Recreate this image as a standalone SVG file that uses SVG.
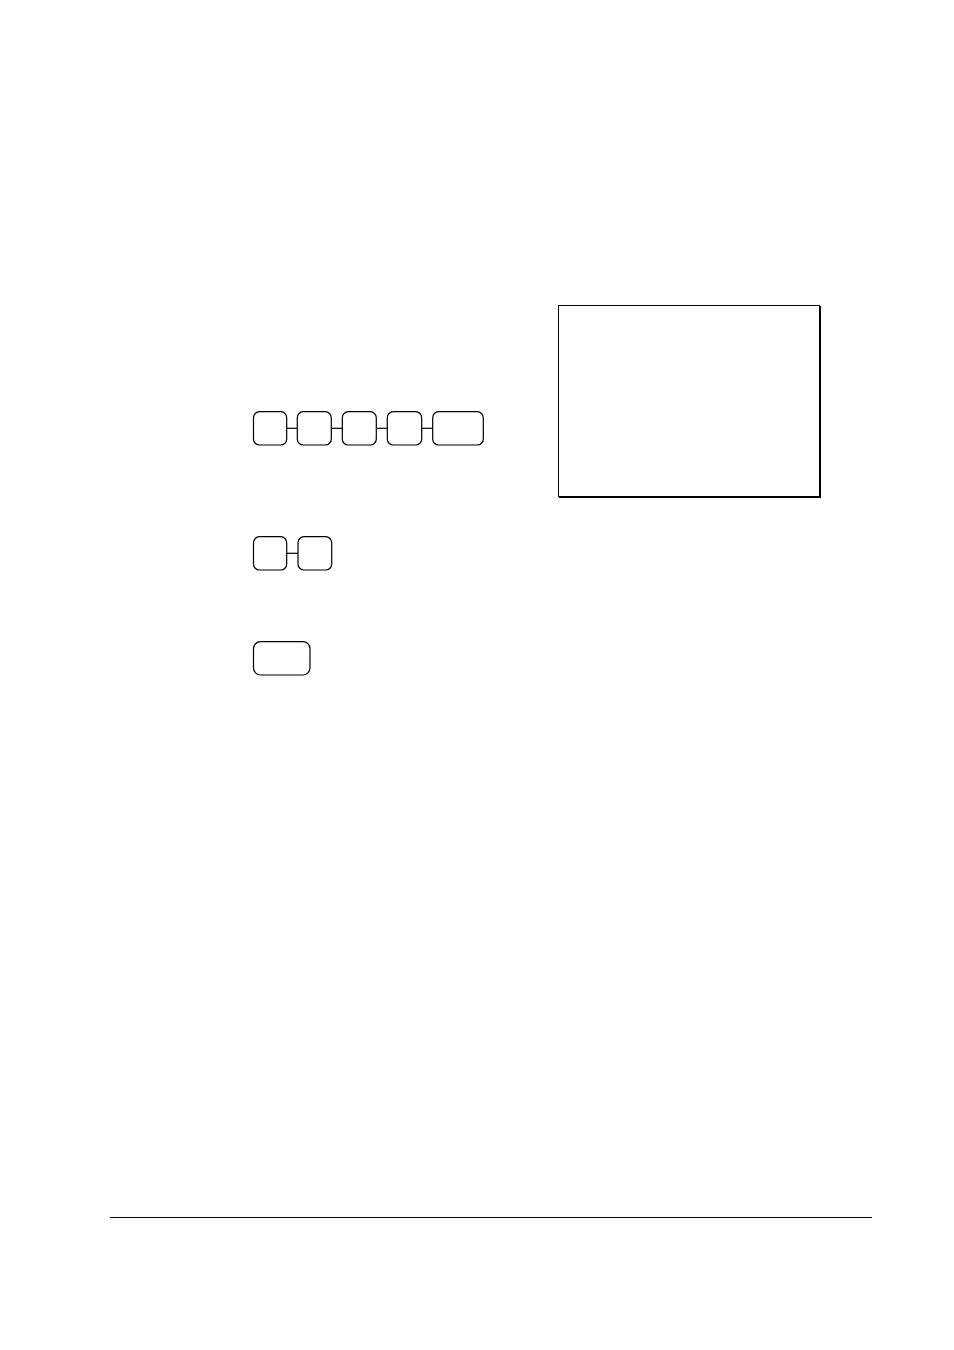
<svg xmlns="http://www.w3.org/2000/svg" width="954" height="1350" viewBox="0 0 954 1350">
<style>
.key{fill:#fff;stroke:#000;stroke-width:1.2}
.conn{stroke:#000;stroke-width:1.2;fill:none}
</style>
<rect width="954" height="1350" fill="#fff"/>
<g id="connectors">
<line class="conn" x1="286.7" y1="428.3" x2="297.3" y2="428.3"/>
<line class="conn" x1="331.3" y1="428.3" x2="342.3" y2="428.3"/>
<line class="conn" x1="376.3" y1="428.3" x2="387.3" y2="428.3"/>
<line class="conn" x1="421.7" y1="428.3" x2="432.7" y2="428.3"/>
<line class="conn" x1="286.7" y1="553.3" x2="298" y2="553.3"/>
</g>
<g id="key1"><rect class="key" x="253.5" y="411.7" width="33.2" height="33.3" rx="6"/></g>
<g id="key2"><rect class="key" x="297.3" y="411.7" width="34" height="33.3" rx="6"/></g>
<g id="key3"><rect class="key" x="342.3" y="411.7" width="34" height="33.3" rx="6"/></g>
<g id="key4"><rect class="key" x="387.3" y="411.7" width="34.4" height="33.3" rx="6"/></g>
<g id="key5"><rect class="key" x="432.7" y="411.7" width="50.6" height="33.3" rx="6"/></g>
<g id="key6"><rect class="key" x="253.5" y="536.7" width="33.2" height="33.3" rx="6"/></g>
<g id="key7"><rect class="key" x="298" y="536.7" width="33.7" height="33.3" rx="6"/></g>
<g id="key8"><rect class="key" x="253.5" y="641.7" width="56.5" height="33.3" rx="7"/></g>
<g id="display">
<rect x="558.5" y="305.5" width="261" height="191" fill="#fff" stroke="#000" stroke-width="1"/>
<line x1="820" y1="306" x2="820" y2="497.5" stroke="#000" stroke-width="2"/>
<line x1="559" y1="497" x2="821" y2="497" stroke="#000" stroke-width="2"/>
</g>
<line x1="110" y1="1217.5" x2="872" y2="1217.5" stroke="#000" stroke-width="1.2"/>
</svg>
